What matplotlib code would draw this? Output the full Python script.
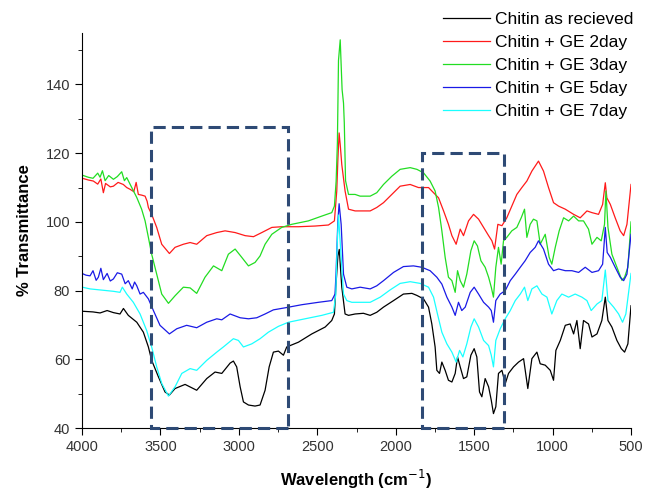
import matplotlib
matplotlib.use("Agg")
import matplotlib.pyplot as plt
from matplotlib.patches import Rectangle
from matplotlib.ticker import MultipleLocator

plt.rcParams['font.family'] = ['Liberation Sans', 'DejaVu Sans']

# (wavenumber cm^-1, % transmittance)
chitin_raw = [(4000, 74.0), (3930, 73.8), (3885, 73.5), (3840, 74.2), (3800, 73.6), (3758, 73.2),
              (3736, 74.8), (3705, 72.8), (3651, 70.8), (3609, 67.9), (3577, 63.6), (3556, 59.7),
              (3513, 54.9), (3471, 50.5), (3443, 49.6), (3407, 51.5), (3343, 52.7), (3269, 51.0),
              (3205, 54.4), (3152, 56.3), (3109, 55.9), (3056, 58.9), (3035, 59.5), (3014, 57.8),
              (2992, 52.0), (2971, 47.6), (2939, 46.7), (2897, 46.4), (2865, 46.7), (2833, 51.0),
              (2807, 57.8), (2780, 62.1), (2748, 62.4), (2716, 61.2), (2695, 63.6), (2620, 65.0),
              (2535, 67.4), (2450, 69.4), (2408, 71.3), (2391, 73.2), (2382, 81.0), (2369, 90.0),
              (2360, 92.0), (2350, 85.0), (2344, 81.0), (2323, 73.2), (2301, 72.8), (2259, 73.2),
              (2206, 73.4), (2163, 72.8), (2121, 73.7), (2078, 75.2), (2014, 77.1), (1951, 79.0),
              (1897, 79.2), (1865, 78.6), (1823, 77.6), (1791, 75.2), (1770, 70.3), (1749, 63.6),
              (1738, 56.8), (1721, 55.9), (1706, 59.2), (1685, 56.8), (1664, 53.9), (1642, 53.4),
              (1621, 55.9), (1606, 60.7), (1589, 57.8), (1568, 54.4), (1547, 54.9), (1521, 61.2),
              (1500, 63.1), (1483, 60.7), (1466, 50.5), (1451, 49.1), (1430, 54.4), (1408, 52.0),
              (1391, 48.1), (1377, 44.2), (1362, 46.2), (1345, 55.9), (1323, 56.8), (1302, 52.9),
              (1281, 55.9), (1249, 57.8), (1217, 59.2), (1185, 60.2), (1158, 51.5), (1132, 60.2),
              (1100, 62.1), (1079, 58.7), (1047, 58.3), (1015, 56.8), (994, 53.9), (979, 62.6),
              (951, 65.5), (919, 69.9), (888, 70.3), (866, 67.4), (845, 71.3), (824, 63.1),
              (803, 71.3), (771, 70.3), (749, 66.5), (717, 67.4), (686, 71.3), (664, 78.1),
              (647, 71.3), (622, 69.4), (590, 65.5), (562, 63.1), (541, 62.1), (520, 64.5),
              (500, 75.6)]

ge_2day = [(3990, 112.6), (3960, 112.2), (3928, 111.9), (3900, 111.0), (3880, 112.5), (3864, 108.5),
           (3850, 111.2), (3820, 110.2), (3800, 110.4), (3770, 111.5), (3737, 110.9), (3715, 110.0),
           (3694, 109.5), (3670, 108.8), (3655, 111.5), (3641, 108.0), (3620, 107.8), (3598, 107.5),
           (3585, 106.0), (3577, 104.2), (3556, 102.2), (3524, 98.4), (3492, 93.5), (3443, 90.8),
           (3407, 92.6), (3354, 93.5), (3311, 94.0), (3269, 93.5), (3205, 96.0), (3141, 96.9),
           (3088, 97.4), (3024, 96.9), (2960, 96.0), (2907, 95.7), (2854, 96.9), (2790, 98.4),
           (2727, 98.6), (2620, 98.6), (2514, 98.8), (2429, 99.1), (2391, 100.3), (2376, 109.0),
           (2369, 118.0), (2361, 125.9), (2354, 122.5), (2344, 116.7), (2323, 109.0), (2301, 103.7),
           (2259, 103.2), (2227, 103.2), (2163, 103.2), (2121, 104.2), (2078, 105.6), (2025, 108.0),
           (1972, 110.4), (1908, 110.9), (1855, 110.0), (1791, 110.0), (1759, 108.5), (1727, 107.0),
           (1695, 103.2), (1664, 99.3), (1642, 96.0), (1615, 93.5), (1589, 97.9), (1568, 96.0),
           (1536, 100.3), (1504, 102.2), (1472, 100.8), (1440, 98.4), (1408, 96.0), (1387, 94.5),
           (1370, 92.1), (1349, 99.3), (1323, 98.9), (1292, 101.2), (1260, 104.6), (1228, 108.0),
           (1196, 110.0), (1164, 111.9), (1132, 114.8), (1090, 117.7), (1058, 114.8), (1026, 110.0),
           (994, 105.6), (962, 104.6), (919, 103.7), (866, 102.2), (824, 101.2), (781, 103.2),
           (749, 102.7), (707, 102.2), (681, 105.1), (664, 111.4), (654, 107.0), (632, 105.1),
           (601, 101.2), (569, 97.4), (547, 96.0), (526, 99.3), (500, 110.9)]

ge_3day = [(4000, 84.0), (3998, 113.6), (3960, 113.0), (3930, 112.7), (3900, 114.2), (3885, 113.0),
           (3870, 114.9), (3853, 112.0), (3830, 113.5), (3800, 112.4), (3775, 113.2), (3747, 114.6),
           (3730, 112.0), (3715, 112.9), (3683, 110.0), (3651, 107.1), (3620, 103.7), (3598, 100.3),
           (3577, 95.5), (3556, 90.6), (3524, 84.8), (3492, 79.0), (3449, 76.3), (3407, 78.5),
           (3354, 81.0), (3311, 80.8), (3269, 79.2), (3216, 83.9), (3162, 87.2), (3109, 85.8),
           (3067, 90.6), (3024, 92.1), (2982, 89.7), (2939, 87.2), (2897, 88.2), (2865, 90.1),
           (2833, 93.5), (2790, 96.4), (2727, 98.4), (2663, 99.3), (2557, 100.3), (2471, 101.7),
           (2408, 102.7), (2391, 104.6), (2380, 111.9), (2372, 123.0), (2365, 147.0), (2354, 153.0),
           (2348, 145.7), (2342, 138.5), (2333, 134.6), (2328, 128.8), (2320, 112.0), (2301, 108.0),
           (2259, 108.0), (2227, 107.5), (2163, 107.5), (2121, 108.5), (2078, 110.9), (2025, 113.3),
           (1972, 115.3), (1908, 115.8), (1865, 115.3), (1823, 114.3), (1781, 111.9), (1749, 109.0),
           (1727, 104.2), (1706, 97.4), (1685, 89.7), (1664, 83.9), (1642, 82.9), (1621, 79.5),
           (1606, 85.8), (1589, 82.9), (1568, 81.0), (1547, 84.8), (1521, 91.6), (1500, 94.5),
           (1479, 93.0), (1457, 88.7), (1430, 86.8), (1408, 83.9), (1391, 81.0), (1377, 78.1),
           (1362, 86.8), (1345, 92.6), (1328, 87.7), (1313, 94.5), (1292, 95.5), (1260, 97.4),
           (1228, 98.4), (1200, 101.2), (1179, 103.7), (1164, 95.5), (1143, 99.3), (1122, 100.8),
           (1100, 100.3), (1079, 93.5), (1047, 96.4), (1022, 89.7), (1005, 87.7), (983, 92.6),
           (958, 97.4), (930, 101.2), (898, 100.3), (866, 101.7), (834, 100.3), (803, 100.3),
           (771, 97.9), (749, 93.5), (717, 95.5), (690, 94.5), (669, 99.3), (660, 109.0),
           (647, 98.4), (622, 90.6), (590, 86.8), (558, 83.0), (541, 83.9), (520, 86.8),
           (500, 100.0)]

ge_5day = [(4000, 85.0), (3975, 84.5), (3949, 84.3), (3930, 85.8), (3910, 83.0), (3896, 83.9),
           (3880, 86.5), (3864, 83.2), (3840, 85.0), (3820, 82.8), (3800, 83.4), (3775, 85.2),
           (3747, 84.8), (3725, 82.0), (3705, 82.9), (3680, 80.5), (3665, 82.5), (3651, 81.4),
           (3630, 79.0), (3609, 79.5), (3577, 77.6), (3545, 74.2), (3503, 69.9), (3443, 67.4),
           (3396, 68.9), (3333, 69.9), (3269, 69.2), (3205, 70.8), (3141, 71.8), (3109, 71.5),
           (3056, 73.2), (2992, 72.1), (2939, 71.8), (2886, 72.1), (2833, 73.2), (2780, 74.4),
           (2705, 75.0), (2599, 75.9), (2493, 76.6), (2408, 77.1), (2387, 79.0), (2380, 85.8),
           (2369, 100.3), (2361, 105.3), (2348, 99.3), (2333, 84.8), (2312, 81.0), (2280, 80.5),
           (2227, 81.0), (2163, 80.5), (2121, 81.4), (2078, 82.9), (2014, 85.3), (1951, 87.0),
           (1887, 87.2), (1834, 86.8), (1781, 85.8), (1738, 83.9), (1706, 81.9), (1674, 78.1),
           (1642, 75.2), (1621, 72.8), (1600, 76.6), (1579, 74.2), (1557, 75.2), (1525, 79.5),
           (1500, 81.0), (1472, 79.0), (1440, 76.6), (1408, 75.2), (1391, 74.2), (1377, 70.8),
           (1362, 77.1), (1334, 79.0), (1302, 80.0), (1270, 82.9), (1238, 84.8), (1206, 86.8),
           (1175, 88.7), (1143, 91.1), (1111, 92.6), (1090, 94.5), (1058, 92.1), (1026, 87.7),
           (994, 85.8), (962, 86.3), (919, 85.8), (877, 85.8), (834, 85.3), (792, 86.8),
           (749, 85.3), (707, 85.8), (681, 87.7), (664, 98.4), (652, 91.1), (632, 89.7),
           (601, 86.8), (569, 83.9), (547, 82.9), (526, 84.8), (500, 96.4)]

ge_7day = [(4000, 40.0), (3998, 81.0), (3949, 80.5), (3885, 80.2), (3800, 79.8), (3758, 79.5),
           (3743, 81.0), (3715, 79.0), (3673, 76.6), (3630, 73.2), (3588, 68.4), (3556, 63.6),
           (3524, 57.8), (3492, 53.0), (3449, 49.3), (3407, 52.0), (3364, 55.9), (3311, 57.3),
           (3269, 56.8), (3205, 59.7), (3141, 62.1), (3099, 63.6), (3035, 66.0), (3003, 65.5),
           (2971, 63.6), (2918, 64.5), (2865, 66.0), (2812, 67.9), (2748, 69.6), (2684, 70.8),
           (2578, 71.8), (2471, 72.8), (2397, 73.7), (2382, 79.0), (2374, 92.6), (2365, 102.0),
           (2352, 92.6), (2333, 79.0), (2312, 77.1), (2280, 76.6), (2227, 76.6), (2163, 76.6),
           (2099, 78.1), (2036, 80.2), (1972, 82.1), (1908, 82.6), (1844, 82.1), (1791, 81.0),
           (1759, 78.1), (1734, 73.2), (1706, 67.9), (1674, 64.5), (1642, 62.1), (1615, 59.2),
           (1593, 62.6), (1572, 60.7), (1547, 64.5), (1521, 69.4), (1500, 71.8), (1472, 69.4),
           (1440, 65.5), (1408, 64.0), (1391, 61.2), (1377, 57.8), (1362, 65.5), (1334, 68.9),
           (1302, 71.8), (1270, 74.2), (1238, 77.1), (1206, 79.0), (1179, 81.0), (1158, 77.1),
           (1132, 80.5), (1100, 81.4), (1068, 79.0), (1036, 78.1), (1005, 73.2), (973, 77.1),
           (941, 79.0), (898, 78.1), (856, 79.0), (813, 78.1), (781, 77.1), (754, 74.2),
           (717, 76.1), (686, 77.1), (664, 86.0), (647, 77.1), (611, 75.2), (579, 73.2),
           (554, 70.8), (533, 73.2), (500, 85.0)]

series = [
    (chitin_raw, 'Chitin as recieved', 'black'),
    (ge_2day, 'Chitin + GE 2day', '#ff1a1a'),
    (ge_3day, 'Chitin + GE 3day', '#22dd22'),
    (ge_5day, 'Chitin + GE 5day', '#1a1ae6'),
    (ge_7day, 'Chitin + GE 7day', '#1affff'),
]

# highlighted regions: (x_left, x_right, y_top)
boxes = [(3560, 2690, 127.5), (1835, 1312, 120.0)]

fig = plt.figure(figsize=(6.49, 4.92), dpi=100)
ax = fig.add_axes([0.1264, 0.130, 0.8459, 0.803])

for data, label, color in series:
    x, y = zip(*data)
    ax.plot(x, y, color=color, lw=0.9, label=label)

for x0, x1, top in boxes:
    rect = Rectangle((x1, 40), x0 - x1, top - 40, fill=False, ls=(0, (4, 2)),
                     lw=2.2, edgecolor='#2e4a75', clip_on=False, zorder=5)
    ax.add_patch(rect)

ax.set_xlim(4000, 500)
ax.set_ylim(40, 155)
ax.xaxis.set_major_locator(MultipleLocator(500))
ax.xaxis.set_minor_locator(MultipleLocator(250))
ax.yaxis.set_major_locator(MultipleLocator(20))
ax.yaxis.set_minor_locator(MultipleLocator(10))
ax.tick_params(which='major', direction='out', length=5, labelsize=10.5, labelcolor='#333333')
ax.tick_params(which='minor', direction='out', length=3)
for s in ['top', 'right']:
    ax.spines[s].set_visible(False)

ax.set_xlabel('Wavelength (cm$^{-1}$)', fontsize=12, fontweight='bold', labelpad=10)
ax.set_ylabel('% Transmittance', fontsize=12, fontweight='bold', labelpad=10)

fig.legend(loc='upper right', bbox_to_anchor=(0.99, 0.993), frameon=False, fontsize=12.5,
           handlelength=2.75, handletextpad=0.3, labelspacing=0.45, borderpad=0)

fig.savefig('out.png', dpi=100)
